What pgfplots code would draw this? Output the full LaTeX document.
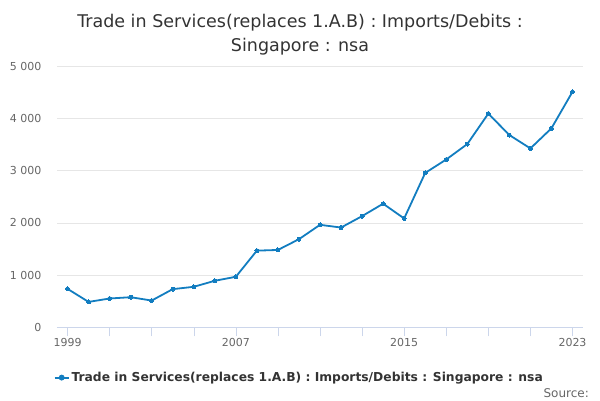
\documentclass[border=0pt]{standalone}
\usepackage{pgfplots}
\pgfplotsset{compat=1.18}
\usepackage{fontspec}
\setmainfont{DejaVu Sans}
\definecolor{linec}{RGB}{18,125,192}
\definecolor{axisc}{RGB}{204,214,235}
\definecolor{gridc}{RGB}{230,230,230}
\definecolor{textc}{RGB}{51,51,51}
\definecolor{tickc}{RGB}{102,102,102}
\begin{document}
\begin{tikzpicture}[x=1pt,y=1pt]
\useasboundingbox (0,0) rectangle (600,400);
\node[anchor=base, font=\fontsize{17.5}{20}\selectfont, text=textc] at (300,400-27.6) {Trade in Services(replaces 1.A.B) : Imports/Debits :};
\node[anchor=base, font=\fontsize{17.5}{20}\selectfont, text=textc] at (300,400-51.5) {Singapore : nsa};
\node[anchor=base east, font=\fontsize{12}{14}\selectfont, text=tickc, inner sep=0] at (589,400-397) {Source:};
\begin{axis}[
  at={(57pt,72.7pt)}, anchor=south west,
  width=526pt, height=261.3pt, scale only axis,
  xmin=1998.5, xmax=2023.5, ymin=0, ymax=5000,
  axis x line=bottom, axis y line=left,
  axis line style={-},
  x axis line style={draw=axisc},
  y axis line style={draw=none},
  xtick={1999,2001,...,2023},
  xticklabels={1999,,,,2007,,,,2015,,,,2023},
  xtick style={draw=axisc, thin},
  tick align=outside,
  major tick length=9pt,
  ytick={0,1000,...,5000},
  ytick style={draw=none},
  ymajorgrids, grid style={gridc, thin},
  /pgf/number format/assume math mode=true,
  yticklabel style={font=\fontsize{11}{13}\selectfont, text=tickc, inner sep=0, anchor=east, xshift=-6.5pt,
    /pgf/number format/1000 sep={\ }},
  xticklabel style={font=\fontsize{11}{13}\selectfont, text=tickc, inner sep=0, anchor=north, yshift=-2pt},
  clip=false,
  legend style={at={(-0.0065,-0.1925)}, anchor=west, draw=none, fill=none, inner sep=0,
    font=\bfseries\fontsize{12.3}{14}\selectfont, text=textc},
  legend cell align=left,
  legend image code/.code={
    \draw[linec, line width=1.8pt] (0pt,0pt) -- (14pt,0pt);
    \fill[linec] (7pt,0pt) circle (2pt);
  },
]
\addplot[linec, line width=1.8pt, mark=*, mark size=2pt, mark options={fill=linec, draw=linec, line width=0pt}]
coordinates {
(1999,736) (2000,486) (2001,551) (2002,576) (2003,512) (2004,730) (2005,775)
(2006,890) (2007,967) (2008,1467) (2009,1480) (2010,1686) (2011,1961)
(2012,1909) (2013,2127) (2014,2365) (2015,2083) (2016,2954) (2017,3211)
(2018,3506) (2019,4089) (2020,3679) (2021,3423) (2022,3808) (2023,4506)
};
\addlegendentry{Trade in Services(replaces 1.A.B) : Imports/Debits : Singapore : nsa}
\end{axis}
\end{tikzpicture}
\end{document}
